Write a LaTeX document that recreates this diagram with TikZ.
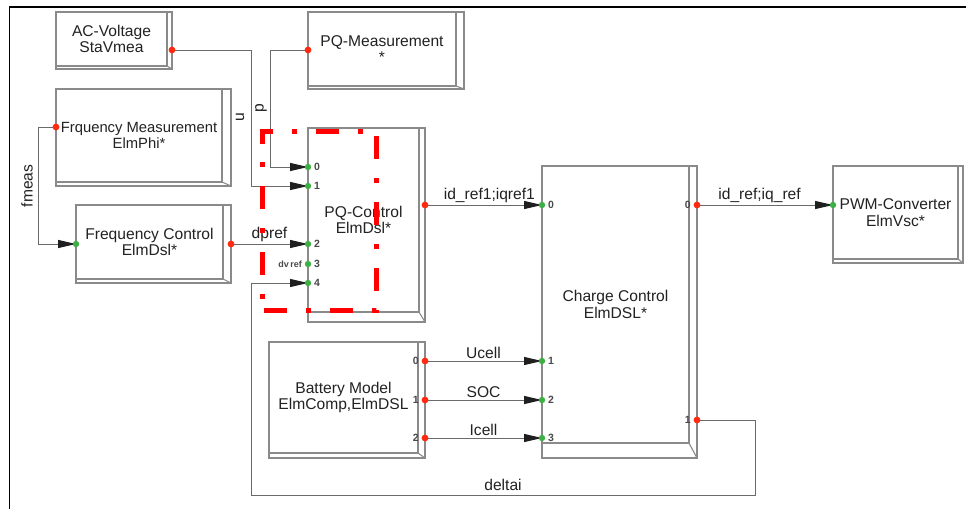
\documentclass[tikz,border=0pt]{standalone}
\usepackage{fontspec}
\setmainfont{Liberation Sans}
\usetikzlibrary{arrows.meta,calc}
\definecolor{boxgray}{HTML}{8A8A8A}
\definecolor{linegray}{HTML}{6A6A6A}
\definecolor{portred}{HTML}{FF2A10}
\definecolor{portgreen}{HTML}{3CB043}
\definecolor{txt}{HTML}{222222}
\definecolor{plbltxt}{HTML}{4A4A4A}
\definecolor{dashred}{HTML}{FF0000}
\tikzset{
  face/.style={draw=boxgray, line width=1.1pt, inner sep=0pt, align=center,
    font=\fontsize{15.6}{16.5}\selectfont, text=txt},
  boxline/.style={draw=boxgray, line width=1.1pt},
  conn/.style={draw=linegray, line width=1pt},
  arr/.style={-{Triangle[length=18pt,width=8pt,color=black!88]}},
  lbl/.style={font=\fontsize{15.6}{16}\selectfont, text=txt, inner sep=2pt},
  plbl/.style={font=\fontsize{10.5}{11}\selectfont\bfseries, text=plbltxt, inner sep=1pt},
  dvlbl/.style={font=\fontsize{9}{10}\selectfont\bfseries, text=plbltxt, inner sep=1pt},
  reddot/.style={fill=portred},
  greendot/.style={fill=portgreen},
  frame/.style={draw=black, line width=1.6pt},
  redbox/.style={draw=dashred, line width=5pt, line cap=butt, line join=miter,
    dash pattern=on 23pt off 19pt on 5pt off 19pt}
}
% #1 name, #2 x1, #3 y1, #4 x2, #5 y2, #6 right strip, #7 bottom strip, #8 text
\newcommand\blk[8]{%
  \node[face, minimum width={#4-#6-#2}, minimum height={#5-#7-#3}] (#1)
    at ({(#2+#4-#6)/2},{(#3+#5-#7)/2}) {#8};
  \draw[boxline] (#4-#6,#3) -- (#4,#3) -- (#4,#5) -- (#2,#5) -- (#2,#5-#7);
  \draw[boxline] (#4-#6,#5-#7) -- (#4,#5);
}
\begin{document}
\begin{tikzpicture}[x=1pt,y=-1pt]
\useasboundingbox (0,0) rectangle (966,509);
\fill[white] (0,0) rectangle (966,509);
% frame
\draw[frame] (9.5,509) -- (9.5,7) -- (966,7);

% blocks
\blk{ac}{56}{12}{172}{69}{5}{3}{AC-Voltage\\StaVmea}
\blk{pqm}{308}{12}{464}{89}{8}{3}{PQ-Measurement\\*}
\begin{scope}[face/.append style={font=\fontsize{14.8}{16}\selectfont}]
\blk{fm}{56}{89}{231}{186}{9}{4}{Frquency Measurement\\ElmPhi*}
\end{scope}
\blk{fc}{76}{205}{231}{283}{8}{4}{Frequency Control\\ElmDsl*}
\blk{pq}{308}{128}{425}{322}{6}{10}{PQ-Control\\ElmDsl*}
\blk{cc}{542}{166}{697}{458}{8}{15}{Charge Control\\ElmDSL*}
\blk{pwm}{833}{166}{963}{263}{5}{4}{PWM-Converter\\ElmVsc*}
\blk{bat}{269}{342}{425}{458}{7}{5}{Battery Model\\ElmComp,ElmDSL}

% ports
\coordinate (acout) at (172,50);
\coordinate (pqmout) at (308,50);
\coordinate (fmout) at (56,127);
\coordinate (fcin) at (76,244);
\coordinate (fcout) at (231,244);
\coordinate (pqin0) at (308,167);
\coordinate (pqin1) at (308,186);
\coordinate (pqin2) at (308,244);
\coordinate (pqin3) at (308,264);
\coordinate (pqin4) at (308,283);
\coordinate (pqout) at (425,205);
\coordinate (ccin0) at (542,205);
\coordinate (ccin1) at (542,361);
\coordinate (ccin2) at (542,400);
\coordinate (ccin3) at (542,438);
\coordinate (ccout0) at (697,205);
\coordinate (ccout1) at (697,420);
\coordinate (pwmin) at (833,205);
\coordinate (batout0) at (425,361);
\coordinate (batout1) at (425,400);
\coordinate (batout2) at (425,438);

% connectors
\draw[conn,arr] (acout) -| ([xshift=-57pt]pqin1) -- (pqin1);
\draw[conn,arr] (pqmout) -| ([xshift=-38pt]pqin0) -- (pqin0);
\draw[conn,arr] (fmout) -| ([xshift=-38pt]fcin) -- (fcin);
\draw[conn,arr] (fcout) -- node[lbl,above] (ldp) {dpref} (pqin2);
\draw[conn,arr] (pqout) -- node[lbl,above,pos=0.55] (lid1) {id\_ref1;iqref1} (ccin0);
\draw[conn,arr] (ccout0) -- node[lbl,above,pos=0.46] (lid) {id\_ref;iq\_ref} (pwmin);
\draw[conn,arr] (batout0) -- node[lbl,above] (lu) {Ucell} (ccin1);
\draw[conn,arr] (batout1) -- node[lbl,above] (ls) {SOC} (ccin2);
\draw[conn,arr] (batout2) -- node[lbl,above] (li) {Icell} (ccin3);
\draw[conn,arr] (ccout1) -| ++(58,75) -| ([xshift=-57pt]pqin4) -- (pqin4);

% line labels
\node[lbl,rotate=90] (lu2) at (240,117) {u};
\node[lbl,rotate=90] (lp) at (261,108) {p};
\node[lbl,rotate=90] (lf) at (27,186) {fmeas};
\node[lbl] (ldelta) at (503,485) {deltai};

% dots
\foreach \p in {acout,pqmout,fmout,fcout,pqout,ccout0,ccout1,batout0,batout1,batout2}
  \fill[reddot] (\p) circle (3.4pt);
\foreach \p in {fcin,pqin0,pqin1,pqin2,pqin3,pqin4,ccin0,ccin1,ccin2,ccin3,pwmin}
  \fill[greendot] (\p) circle (3.2pt);

% port labels
\node[plbl,anchor=west] (q0) at (313,167) {0};
\node[plbl,anchor=west] (q1) at (313,186) {1};
\node[plbl,anchor=west] (q2) at (313,244) {2};
\node[plbl,anchor=west] (q3) at (313,264) {3};
\node[plbl,anchor=west] (q4) at (313,283) {4};
\node[dvlbl,anchor=east] (qdv) at (303,264) {dv\,ref};
\node[plbl,anchor=west] (c0) at (547,205) {0};
\node[plbl,anchor=west] (c1) at (547,361) {1};
\node[plbl,anchor=west] (c2) at (547,400) {2};
\node[plbl,anchor=west] (c3) at (547,438) {3};
\node[plbl,anchor=east] (co0) at (692,205) {0};
\node[plbl,anchor=east] (co1) at (692,420) {1};
\node[plbl,anchor=east] (b0) at (420,361) {0};
\node[plbl,anchor=east] (b1) at (420,400) {1};
\node[plbl,anchor=east] (b2) at (420,438) {2};

% red dash-dot highlight
\draw[redbox] (262.5,144) -- (262.5,131) -- (376.5,131) -- (376.5,310.5) -- (262.5,310.5);
\draw[redbox, dash phase=11pt] (262.5,131) -- (262.5,310.5);
\end{tikzpicture}
\end{document}
